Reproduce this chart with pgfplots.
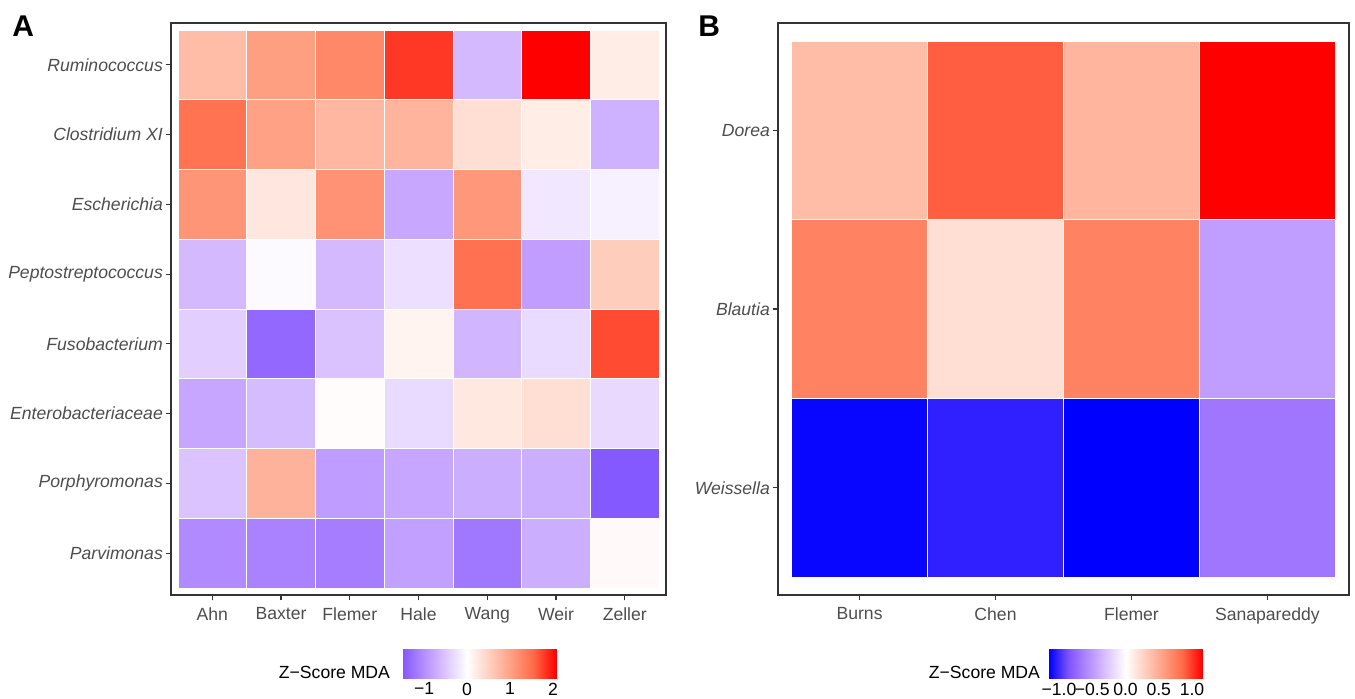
\documentclass[border=0pt]{standalone}
\usepackage{pgfplots}
\pgfplotsset{compat=1.18}
\usepackage{fontspec}
\setmainfont{Liberation Sans}
\definecolor{gray30}{HTML}{4D4D4D}
\definecolor{gray20}{HTML}{333333}

% y = 0 is the top row (Ruminococcus); the axis runs with y dir=reverse
\pgfplotstableread{
x y z
0 0 0.72
1 0 1.03
2 0 1.25
3 0 1.80
4 0 -0.62
5 0 2.07
6 0 0.20
0 1 1.45
1 1 1.00
2 1 0.77
3 1 0.80
4 1 0.36
5 1 0.20
6 1 -0.68
0 2 1.12
1 2 0.27
2 2 1.15
3 2 -0.78
4 2 1.10
5 2 -0.20
6 2 -0.12
0 3 -0.62
1 3 -0.05
2 3 -0.62
3 3 -0.28
4 3 1.47
5 3 -0.87
6 3 0.54
0 4 -0.42
1 4 -1.35
2 4 -0.54
3 4 0.12
4 4 -0.65
5 4 -0.32
6 4 1.70
0 5 -0.79
1 5 -0.60
2 5 0.03
3 5 -0.32
4 5 0.25
5 5 0.36
6 5 -0.33
0 6 -0.53
1 6 0.82
2 6 -0.88
3 6 -0.79
4 6 -0.72
5 6 -0.72
6 6 -1.49
0 7 -1.04
1 7 -1.12
2 7 -1.16
3 7 -0.84
4 7 -1.22
5 7 -0.72
6 7 0.05
}\dataA

\pgfplotstableread{
x y z
0 0 0.40
1 0 0.89
2 0 0.44
3 0 1.15
0 1 0.72
1 1 0.20
2 1 0.72
3 1 -0.48
0 2 -1.13
1 2 -1.04
2 2 -1.15
3 2 -0.68
}\dataB

\pgfplotsset{
  colormap={zs}{rgb255(0)=(0,0,255) rgb255(1)=(126,82,255) rgb255(2)=(179,139,255) rgb255(3)=(220,196,255) rgb255(4)=(255,255,255) rgb255(5)=(255,207,191) rgb255(6)=(255,158,129) rgb255(7)=(255,104,70) rgb255(8)=(255,0,0)},
  heat/.style={
    scale only axis, anchor=south west,
    y dir=reverse,
    axis line style={gray20, line width=0.55pt},
    tick style={gray20, line width=0.55pt},
    tick align=outside, major tick length=2.75pt,
    xtick pos=bottom, ytick pos=left,
    xticklabel style={text=gray30, font=\fontsize{8.8}{10}\selectfont},
    yticklabel style={text=gray30, font=\fontsize{8.8}{10}\selectfont\itshape, xshift=2.2pt},
    colormap name=zs,
  },
  cbar/.style={
    scale only axis, anchor=south west,
    height=15pt, width=76.5pt,
    ymin=0, ymax=1, ytick=\empty,
    axis line style={draw=none},
    tick align=inside, xtick pos=both, major tick length=3pt,
    tick style={white, line width=0.5pt},
    xticklabel style={text=black, font=\fontsize{8.8}{10}\selectfont, yshift=1.6pt},
    colormap name=zs,
  },
}

\begin{document}
\begin{tikzpicture}
\path[use as bounding box] (0,0) rectangle (677.5pt,349.5pt);

% Panel A
\begin{axis}[heat,
  at={(85.5pt,52pt)}, width=247.5pt, height=286pt,
  xmin=-0.6, xmax=6.6, ymin=-0.6, ymax=7.6,
  xtick={0,...,6}, ytick={0,...,7},
  xticklabels={Ahn,Baxter,Flemer,Hale,Wang,Weir,Zeller},
  yticklabels={Ruminococcus,Clostridium XI,Escherichia,Peptostreptococcus,Fusobacterium,Enterobacteriaceae,Porphyromonas,Parvimonas},
  point meta min=-2.07, point meta max=2.07,
]
\addplot[matrix plot, mesh/cols=7, point meta=explicit, draw=white, line width=0.3pt] table[x=x, y=y, meta=z] {\dataA};
\end{axis}

% Panel B
\begin{axis}[heat,
  at={(389pt,52pt)}, width=285.5pt, height=286pt,
  xmin=-0.6, xmax=3.6, ymin=-0.6, ymax=2.6,
  xtick={0,...,3}, ytick={0,...,2},
  xticklabels={Burns,Chen,Flemer,Sanapareddy},
  yticklabels={Dorea,Blautia,Weissella},
  point meta min=-1.15, point meta max=1.15,
]
\addplot[matrix plot, mesh/cols=4, point meta=explicit, draw=white, line width=0.3pt] table[x=x, y=y, meta=z] {\dataB};
\end{axis}

% Colourbar A
\begin{axis}[cbar, at={(201.5pt,10pt)},
  xmin=-1.49, xmax=2.07,
  point meta min=-2.07, point meta max=2.07,
  xtick={-1,0,1,2}, xticklabels={−1,0,1,2},
]
\addplot[surf, shader=interp, point meta=x, mesh/cols=2] coordinates {(-1.49,0) (2.07,0) (-1.49,1) (2.07,1)};
\end{axis}
\node[anchor=base east, font=\fontsize{8.8}{11}\selectfont] at (198.5pt,10pt) {Z−Score MDA};

% Colourbar B
\begin{axis}[cbar, at={(524.5pt,10pt)},
  xmin=-1.15, xmax=1.15,
  point meta min=-1.15, point meta max=1.15,
  xtick={-1,-0.5,0,0.5,1}, xticklabels={−1.0,−0.5,0.0,0.5,1.0},
]
\addplot[surf, shader=interp, point meta=x, mesh/cols=2] coordinates {(-1.15,0) (1.15,0) (-1.15,1) (1.15,1)};
\end{axis}
\node[anchor=base east, font=\fontsize{8.8}{11}\selectfont] at (523.5pt,10pt) {Z−Score MDA};

% Panel labels
\node[anchor=base west, inner sep=0pt, font=\fontsize{15}{18}\selectfont\bfseries] at (6pt,331pt) {A};
\node[anchor=base west, inner sep=0pt, font=\fontsize{15}{18}\selectfont\bfseries] at (349pt,331pt) {B};
\end{tikzpicture}
\end{document}
